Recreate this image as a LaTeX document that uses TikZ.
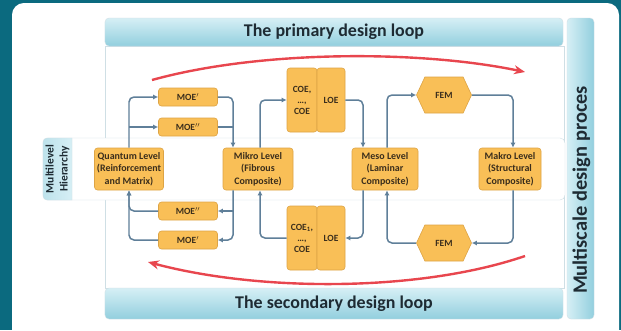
\documentclass[tikz,border=0pt]{standalone}
\usepackage{fontspec}
\setmainfont{Carlito}
\usetikzlibrary{arrows.meta,shapes.symbols}
\definecolor{frame}{HTML}{0B6A7F}
\definecolor{panelline}{HTML}{CFDFE5}
\definecolor{boxfill}{HTML}{F9BF57}
\definecolor{boxline}{HTML}{DDA445}
\definecolor{boxtext}{HTML}{3B2E1C}
\definecolor{linkcol}{HTML}{5F7F99}
\definecolor{loopred}{HTML}{E8464E}
\definecolor{bandlight}{HTML}{D6EFF5}
\definecolor{banddark}{HTML}{92CFDE}
\definecolor{bandtext}{HTML}{1E2B33}
\begin{document}
\begin{tikzpicture}[x=1bp,y=-1bp,
	lvl/.style={draw=boxline,fill=boxfill,rounded corners=3pt,line width=0.6pt,align=center,
		text=boxtext,inner sep=1pt,font=\bfseries\fontsize{10}{12.5}\selectfont,
		minimum height=42bp},
	moe/.style={lvl,minimum width=59bp,minimum height=18bp,font=\bfseries\fontsize{9.5}{11}\selectfont},
	coe/.style={lvl,minimum height=64bp,font=\bfseries\fontsize{9.5}{11}\selectfont},
	fem/.style={draw=boxline,fill=boxfill,line width=0.6pt,text=boxtext,signal,
		signal to=west and east,signal pointer angle=130,minimum width=55bp,minimum height=36bp,
		inner sep=1pt,font=\bfseries\fontsize{9.5}{11}\selectfont},
	banner/.style={draw=panelline,rounded corners=4pt,top color=bandlight,bottom color=banddark,
		text=bandtext,font=\bfseries\fontsize{18}{20}\selectfont},
	link/.style={draw=linkcol,line width=1.5pt,rounded corners=5pt,-{Latex[length=5pt,width=5pt]}},
	loopline/.style={draw=loopred,line width=2.4pt,-{Stealth[length=11pt,width=9pt]}}]
	\useasboundingbox (0,0) rectangle (621,330);
	\fill[frame] (0,0) rectangle (621,330);
	\fill[white,rounded corners=12pt] (12,3) rectangle (619,350);

	\draw[panelline,fill=white] (105,46) rectangle (564,288);
	\node[banner,minimum width=458bp,minimum height=28bp] (primary) at (334,32) {The primary design loop};
	\node[banner,minimum width=458bp,minimum height=31bp] (secondary) at (334,303.5) {The secondary design loop};
	\node[banner,minimum width=27bp,minimum height=301bp,left color=bandlight,right color=banddark] (side) at (580.5,168.5) {};
	\node[rotate=90,text=bandtext,font=\bfseries\fontsize{20.5}{22}\selectfont] (sidetext) at (581.5,190) {Multiscale design proces};

	\draw[panelline,fill=white,rounded corners=5pt] (43,138) rectangle (565,200);
	\draw[panelline,left color=banddark!60,right color=bandlight] (72,138) [rounded corners=4pt] -- (43,138) -- (43,200) [sharp corners] -- (72,200) -- cycle;
	\node[rotate=90,align=center,text=bandtext,font=\bfseries\fontsize{11.5}{14}\selectfont] (hier) at (57.5,169) {Multilevel\\Hierarchy};

	\node[lvl,minimum width=69bp] (quantum) at (129,169) {Quantum Level\\(Reinforcement\\and Matrix)};
	\node[lvl,minimum width=70bp] (mikro) at (258,169) {Mikro Level\\(Fibrous\\Composite)};
	\node[lvl,minimum width=66bp] (meso) at (385,169) {Meso Level\\(Laminar\\Composite)};
	\node[lvl,minimum width=62bp] (makro) at (510,169) {Makro Level\\(Structural\\Composite)};

	\node[moe] (moeIa) at (188,97) {MOE$^{\prime}$};
	\node[moe] (moeIIa) at (188,127) {MOE$^{\prime\prime}$};
	\node[moe] (moeIIb) at (188,211) {MOE$^{\prime\prime}$};
	\node[moe] (moeIb) at (188,240) {MOE$^{\prime}$};

	\node[coe,minimum width=30bp] (coeA) at (302,100) {COE,\\\dots,\\COE};
	\node[coe,minimum width=28bp] (loeA) at (331,100) {LOE};
	\node[coe,minimum width=30bp] (coeB) at (302,238) {COE\textsubscript{1},\\\dots,\\COE};
	\node[coe,minimum width=28bp] (loeB) at (331,238) {LOE};

	\node[fem] (femA) at (444,95) {FEM};
	\node[fem] (femB) at (444,243) {FEM};

	\coordinate (mikroin) at ([xshift=-25bp]mikro.north);
	\coordinate (mikroout) at ([xshift=-25bp]mikro.south);
	\coordinate (mesoin) at ([xshift=-22bp]meso.north);
	\coordinate (mesoout) at ([xshift=-22bp]meso.south);

	\draw[link] (quantum.north) |- (moeIa.west);
	\draw[link] (quantum.north |- moeIIa.west) -- (moeIIa.west);
	\draw[link] (moeIa.east) -| (mikroin);
	\draw[link,-] (moeIIa.east) -- (moeIIa.east -| mikroin);
	\draw[link] (mikroout) |- (moeIb.east);
	\draw[link] (moeIIb.east -| mikroout) -- (moeIIb.east);
	\draw[link] (moeIIb.west) -| (quantum.south);
	\draw[link] (moeIb.west) -| (quantum.south);

	\draw[link] ([xshift=2bp]mikro.north) |- (coeA.west);
	\draw[link] (loeA.east) -| (mesoin);
	\draw[link] (mesoout) |- (loeB.east);
	\draw[link] (coeB.west) -| ([xshift=2bp]mikro.south);

	\draw[link] ([xshift=2bp]meso.north) |- (femA.west);
	\draw[link] (femA.east) -| ([xshift=3bp]makro.north);
	\draw[link] ([xshift=3bp]makro.south) |- (femB.east);
	\draw[link] (femB.west) -| ([xshift=2bp]meso.south);

	\coordinate (pstart) at (152,80);
	\coordinate (pend) at (525,72);
	\coordinate (sstart) at (525,256);
	\coordinate (send) at (148,262);
	\draw[loopline] (pstart) .. controls (260,50) and (420,50) .. (pend);
	\draw[loopline] (sstart) .. controls (420,292) and (260,292) .. (send);
\end{tikzpicture}
\end{document}
